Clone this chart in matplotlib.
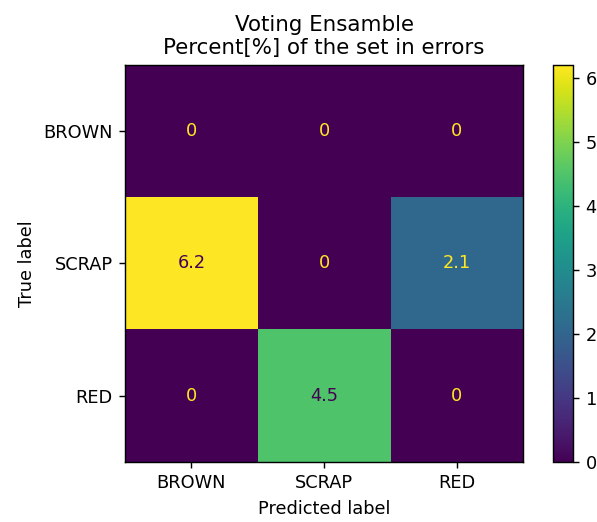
import matplotlib
matplotlib.use("Agg")
import matplotlib.pyplot as plt
import numpy as np

# confusion matrix in percent of the set
labels = ["BROWN", "SCRAP", "RED"]
values = [[0, 0, 0],
          [6.2, 0, 2.1],
          [0, 4.5, 0]]
cm = np.array(values)

fig = plt.figure(figsize=(597 / 128, 522 / 128), dpi=128)
ax = fig.add_axes([0.2094, 0.115, 0.6667, 0.7605])
cax = fig.add_axes([0.926, 0.115, 0.034, 0.7605])

cmap = plt.get_cmap("viridis")
im = ax.imshow(cm, interpolation="nearest", cmap=cmap, aspect="auto")
fig.colorbar(im, cax=cax)

thresh = (cm.max() + cm.min()) / 2.0
for i in range(cm.shape[0]):
    for j in range(cm.shape[1]):
        color = cmap(0) if cm[i, j] > thresh else cmap(256)
        ax.text(j, i, format(cm[i, j], ".2g"), ha="center", va="center", color=color)

ax.set_xticks(range(len(labels)))
ax.set_xticklabels(labels)
ax.set_yticks(range(len(labels)))
ax.set_yticklabels(labels)
ax.set_xlabel("Predicted label")
ax.set_ylabel("True label")
ax.set_title("Voting Ensamble\nPercent[%] of the set in errors")

fig.savefig("out.png", dpi=128)
